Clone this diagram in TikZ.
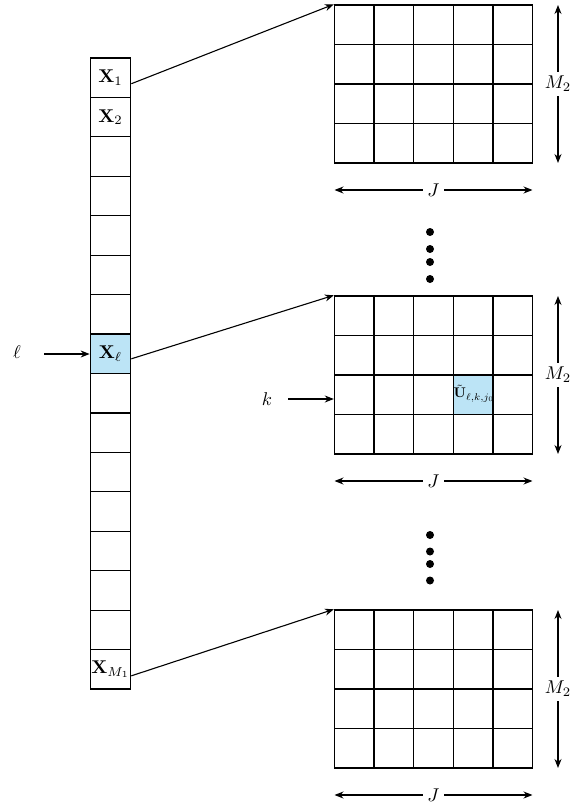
\documentclass[tikz,border=0pt]{standalone}
\usepackage{amsmath,amssymb}
\usetikzlibrary{arrows.meta,calc}
\definecolor{hl}{RGB}{188,228,246}
\newcommand{\lbl}[1]{\scalebox{1.85}{$#1$}}
\tikzset{
  colcell/.style={draw, line width=1.2pt, minimum width=40.5pt, minimum height=39.44pt, inner sep=0pt, anchor=center},
  gcell/.style={draw, line width=1.4pt, minimum width=39.6pt, minimum height=39.5pt, inner sep=0pt, anchor=center},
  conn/.style={line width=1.1pt, -{Stealth[length=9pt,width=7pt]}},
  dim/.style={line width=1.1pt, {Stealth[length=9pt,width=7pt]}-{Stealth[length=9pt,width=7pt]}},
  lab/.style={inner sep=0pt},
  dimlab/.style={fill=white, inner sep=4pt},
  dotmark/.style={circle, fill=black, minimum size=8pt, inner sep=0pt}
}
\begin{document}
\begin{tikzpicture}[x=1pt,y=-1pt]
\useasboundingbox (0,0) rectangle (584,808);
% left column
\foreach \i in {1,...,16}{
  \pgfmathsetmacro{\cy}{58+39.44*(\i-0.5)}
  \ifnum\i=8
    \node[colcell, fill=hl] (c\i) at (110.5,\cy) {};
  \else
    \node[colcell] (c\i) at (110.5,\cy) {};
  \fi
}
\node[lab] (x1) at (c1.center) {\lbl{\mathbf{X}_1}};
\node[lab] (x2) at (c2.center) {\lbl{\mathbf{X}_2}};
\node[lab] (xl) at (c8.center) {\lbl{\mathbf{X}_\ell}};
\node[lab] (xm) at (c16.center) {\lbl{\mathbf{X}_{M_1}}};
% grids
\foreach \g/\top in {a/5, b/296, c/610}{
  \foreach \r in {1,...,4}{
    \foreach \c in {1,...,5}{
      \pgfmathsetmacro{\gx}{334.5+39.6*(\c-0.5)}
      \pgfmathsetmacro{\gy}{\top+39.5*(\r-0.5)}
      \node[gcell] (\g\r\c) at (\gx,\gy) {};
    }
  }
}
\node[gcell, fill=hl] (bhl) at (b34.center) {};
\node[anchor=west, inner sep=0pt] (u) at (453.5,393.5) {\scalebox{1.4}{$\tilde{\mathbf{U}}_{\ell,k,j_0}$}};
\draw[line width=1.4pt] (bhl.north east) -- (bhl.south east);
% connectors
\draw[conn] ([yshift=-6pt]c1.east) -- (a11.north west);
\draw[conn] ([yshift=-5pt]c8.east) -- (b11.north west);
\draw[conn] ([yshift=-6.5pt]c16.east) -- (c11.north west);
% ell and k
\node[lab] (ell) at (17,352) {\lbl{\ell}};
\coordinate (ls) at (44,354);
\draw[conn] (ls) -- (c8.west |- ls);
\node[lab] (k) at (267,399) {\lbl{k}};
\coordinate (ks) at (288,399);
\draw[conn] (ks) -- (b31.west |- ks);
% dimension arrows
\foreach \g/\top in {a/5, b/296, c/610}{
  \coordinate (\g mt) at (558,\top);
  \coordinate (\g mb) at (558,\top+158);
  \coordinate (\g jl) at (334.5,\top+185);
  \coordinate (\g jr) at (532.5,\top+185);
  \draw[dim] (\g mt) -- node[dimlab] (\g M) {\lbl{M_2}} (\g mb);
  \draw[dim] (\g jl) -- node[dimlab] (\g J) {\lbl{J}} (\g jr);
}
% dots
\foreach \y [count=\n] in {232,249,262,279}{ \node[dotmark] (d\n) at (430,\y) {}; }
\foreach \y [count=\n] in {535,551.5,564,580.5}{ \node[dotmark] (e\n) at (430,\y) {}; }
\end{tikzpicture}
\end{document}
